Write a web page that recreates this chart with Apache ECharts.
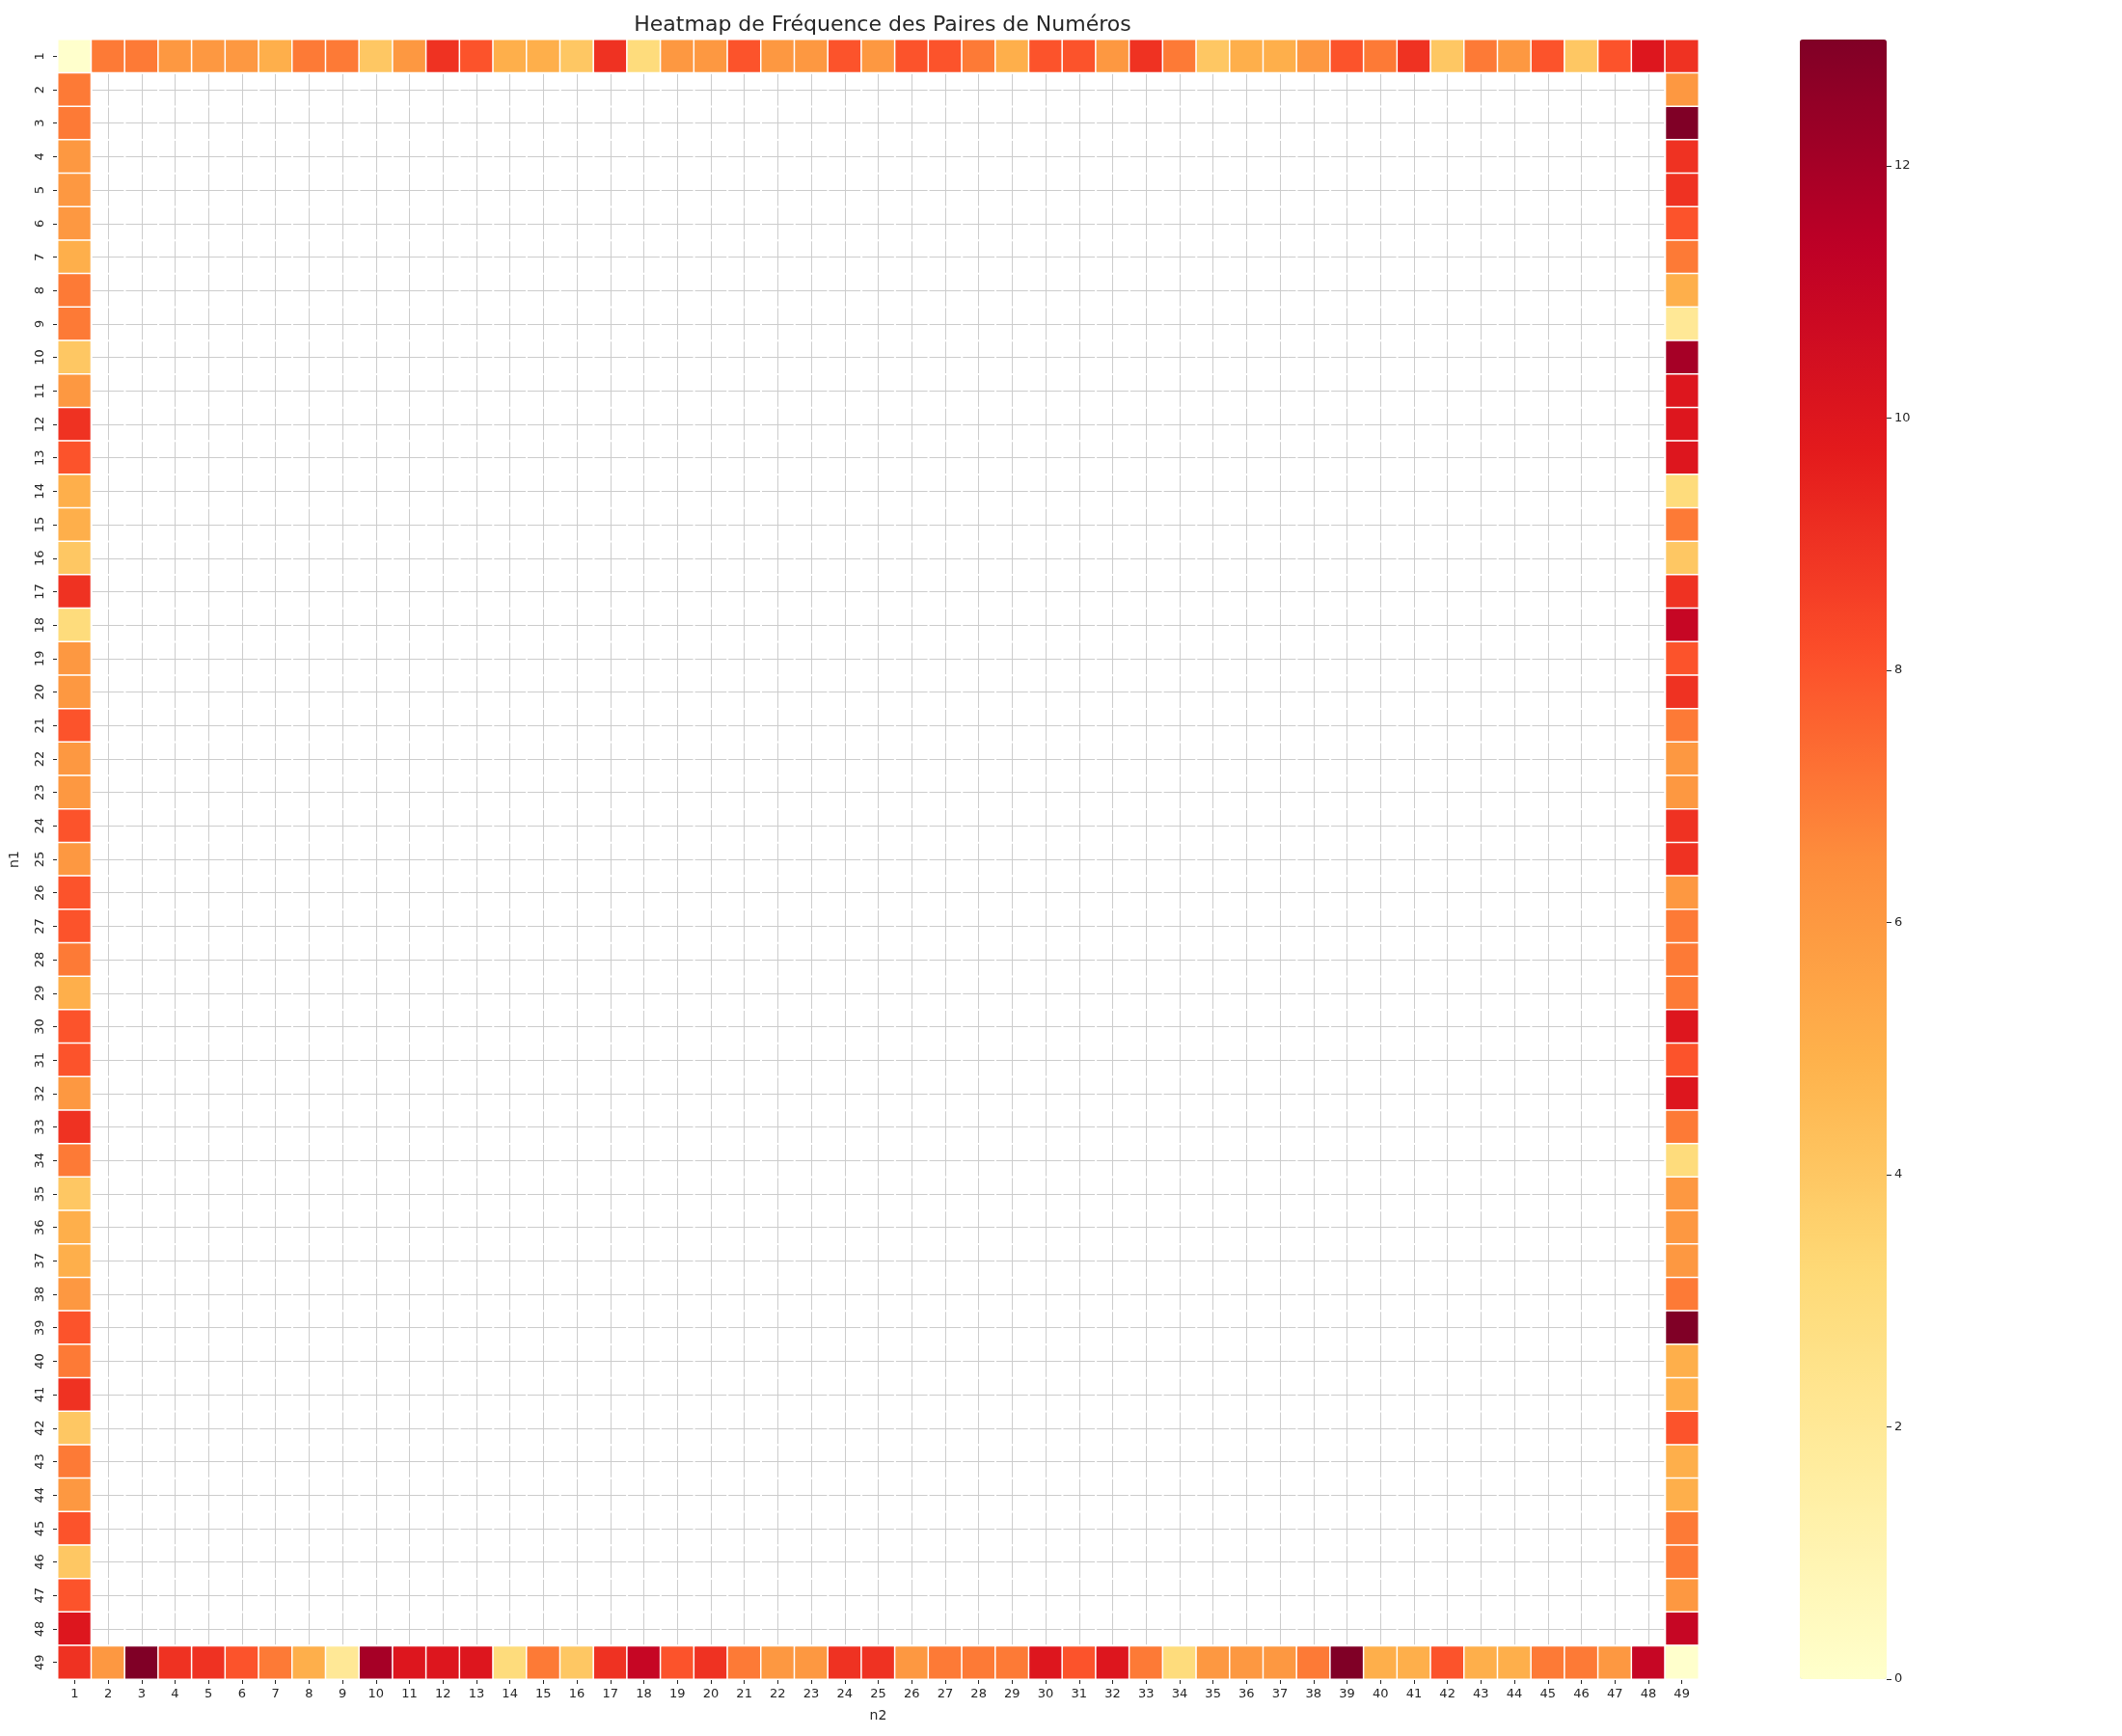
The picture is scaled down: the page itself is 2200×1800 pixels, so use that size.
<!DOCTYPE html>
<html>
<head>
<meta charset="utf-8">
<script src="https://cdn.jsdelivr.net/npm/echarts@6/dist/echarts.min.js"></script>
<style>
  html, body { margin: 0; padding: 0; background: #fff; }
  #chart { width: 2200px; height: 1800px; }
</style>
</head>
<body>
<div id="chart"></div>
<script>
// numbers 1..49 on both axes
var numbers = [];
for (var n = 1; n <= 49; n++) numbers.push(String(n));

// pair counts of number 1 with 1..49 (row 1 / column 1)
var firstRow = [0, 7, 7, 6, 6, 6, 5, 7, 7, 4, 6, 9, 8, 5, 5, 4, 9, 3, 6, 6, 8, 6, 6, 8, 6,
                8, 8, 7, 5, 8, 8, 6, 9, 7, 4, 5, 5, 6, 8, 7, 9, 4, 7, 6, 8, 4, 8, 10, 9];
// pair counts of number 49 with 1..49 (row 49 / column 49)
var lastRow = [9, 6, 13, 9, 9, 8, 7, 5, 2, 12, 10, 10, 10, 3, 7, 4, 9, 11, 8, 9, 7, 6, 6, 9, 9,
               6, 7, 7, 7, 10, 8, 10, 7, 3, 6, 6, 6, 7, 13, 5, 5, 8, 5, 5, 7, 7, 6, 11, 0];

var colorTicks = [0, 2, 4, 6, 8, 10, 12];
var ylOrRd = ['#ffffcc', '#ffeda0', '#fed976', '#feb24c', '#fd8d3c',
              '#fc4e2a', '#e31a1c', '#bd0026', '#800026'];

// border cells carry counts, interior pairs are empty
var cells = [];
var emptyCells = [];
for (var i = 0; i < 49; i++) {
    for (var j = 0; j < 49; j++) {
        if (i === 0) cells.push([j, i, firstRow[j]]);
        else if (i === 48) cells.push([j, i, lastRow[j]]);
        else if (j === 0) cells.push([j, i, firstRow[i]]);
        else if (j === 48) cells.push([j, i, lastRow[i]]);
        else emptyCells.push([j, i, 0]);
    }
}

var font = 'DejaVu Sans';
var txt = '#262626';

var chart = echarts.init(document.getElementById('chart'));
chart.setOption({
    backgroundColor: '#fff',
    animation: false,
    title: {
        text: 'Heatmap de Fréquence des Paires de Numéros',
        left: 910,
        top: 10,
        textAlign: 'center',
        textStyle: { fontFamily: font, fontSize: 22, fontWeight: 'normal', color: txt }
    },
    grid: [
        { left: 59, top: 41, width: 1702, height: 1700 },
        { left: 1866, top: 41, width: 90, height: 1700 }
    ],
    xAxis: [{
        type: 'category',
        data: numbers,
        name: 'n2',
        nameLocation: 'middle',
        nameGap: 31,
        nameTextStyle: { fontFamily: font, fontSize: 14, color: txt },
        axisLine: { show: false },
        axisTick: { show: true, alignWithLabel: true, length: 5, interval: 0, lineStyle: { color: txt } },
        axisLabel: { interval: 0, margin: 9, fontFamily: font, fontSize: 13, color: txt },
        splitLine: { show: true, alignWithLabel: true, interval: 0, lineStyle: { color: '#cccccc', width: 1 } }
    }, {
        gridIndex: 1, type: 'category', data: [''], show: false, position: 'top'
    }],
    yAxis: [{
        type: 'category',
        data: numbers,
        inverse: true,
        name: 'n1',
        nameLocation: 'middle',
        nameGap: 38,
        nameTextStyle: { fontFamily: font, fontSize: 14, color: txt },
        axisLine: { show: false },
        axisTick: { show: true, alignWithLabel: true, length: 5, interval: 0, lineStyle: { color: txt } },
        axisLabel: { interval: 0, rotate: 90, margin: 12, fontFamily: font, fontSize: 13, color: txt },
        splitLine: { show: true, alignWithLabel: true, interval: 0, lineStyle: { color: '#cccccc', width: 1 } }
    }, {
        gridIndex: 1,
        type: 'value',
        position: 'right',
        min: 0,
        max: 13,
        interval: 2,
        axisLine: { show: false },
        splitLine: { show: false },
        axisTick: { show: true, length: 5, customValues: colorTicks, lineStyle: { color: txt } },
        axisLabel: { margin: 8, customValues: colorTicks, fontFamily: font, fontSize: 13, color: txt }
    }],
    visualMap: {
        type: 'continuous',
        seriesIndex: 0,
        min: 0,
        max: 13,
        calculable: false,
        orient: 'vertical',
        left: 1866,
        top: 41,
        padding: 0,
        itemWidth: 90,
        itemHeight: 1700,
        text: null,
        showLabel: false,
        inRange: { color: ylOrRd }
    },
    series: [{
        type: 'heatmap',
        data: cells,
        itemStyle: { borderColor: '#ffffff', borderWidth: 1.5 },
        emphasis: { disabled: true },
        label: { show: false }
    }, {
        type: 'heatmap',
        data: emptyCells,
        itemStyle: { color: 'rgba(0,0,0,0)', borderColor: '#ffffff', borderWidth: 1.5 },
        emphasis: { disabled: true },
        label: { show: false }
    }]
});
</script>
</body>
</html>
